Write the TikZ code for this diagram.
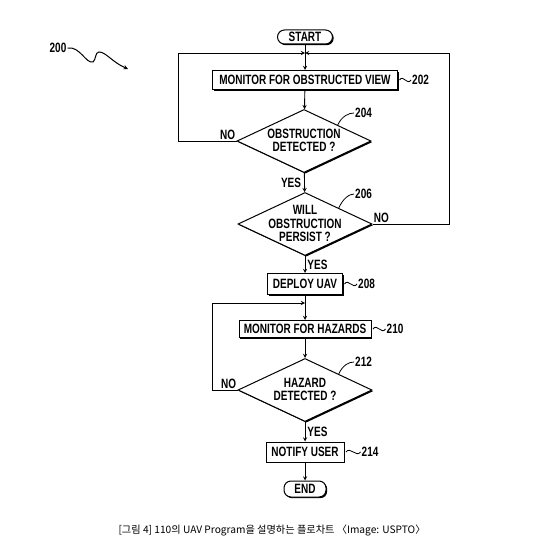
\documentclass[tikz,border=0pt]{standalone}
\usepackage{fontspec}
\newfontfamily\patfont[FakeStretch=0.74]{Liberation Sans Bold}
\newfontfamily\cjk{Noto Sans CJK KR}
\usetikzlibrary{positioning,shapes.geometric,shadows}

% text of a decision, kept from setting the size of the diamond
\newcommand{\dlines}[1]{\smash{\makebox[0pt]{\raisebox{-5pt}{\begin{tabular}{@{}c@{}}#1\end{tabular}}}}}

\tikzset{
  txt/.style={font=\patfont\fontsize{13.5}{13.5}\selectfont},
  box/.style={txt,draw,line width=1pt,fill=white,inner sep=0pt,minimum height=19pt,
    drop shadow={shadow xshift=1.2pt,shadow yshift=-1.2pt,fill=black,opacity=1}},
  decision/.style={box,diamond,minimum width=134pt,minimum height=63pt},
  term/.style={box,rounded corners=7pt,minimum height=14pt},
  lbl/.style={txt,inner sep=1pt},
  flow/.style={->,>=stealth,line width=0.9pt},
}

\begin{document}
\begin{tikzpicture}[x=1pt,y=-1pt]
\useasboundingbox (0,0) rectangle (536,556);
% main column
\node[term,minimum width=55pt] (start) at (305,37) {START};
\node[box,minimum width=185pt] (monview) at (305,80) {MONITOR FOR OBSTRUCTED VIEW};
\node[decision] (obsdet) at (304,141) {\dlines{OBSTRUCTION\\DETECTED ?}};
\node[decision] (persist) at (305,224) {\dlines{WILL\\OBSTRUCTION\\PERSIST ?}};
\node[box,minimum width=75pt,minimum height=21pt] (deploy) at (305,284) {DEPLOY UAV};
\node[box,minimum width=132pt,minimum height=17pt] (monhaz) at (305,329) {MONITOR FOR HAZARDS};
\node[decision] (hazdet) at (305,390) {\dlines{HAZARD\\DETECTED ?}};
\node[box,minimum width=78pt,minimum height=20pt] (notify) at (305,452) {NOTIFY USER};
\node[term,minimum width=42pt,minimum height=16pt] (end) at (305,489) {END};
% junctions and corners of the loops
\coordinate (j1) at (305,53);
\coordinate (j2) at (305,303);
\coordinate (c1) at (178,53);
\coordinate (c2) at (449,53);
\coordinate (c3) at (212,303);
% reference numerals
\node[lbl,right=13pt of monview] (n202) {202};
\node[lbl,anchor=west] (n204) at (354,113) {204};
\node[lbl,anchor=west] (n206) at (354,194) {206};
\node[lbl,right=14pt of deploy] (n208) {208};
\node[lbl,right=14pt of monhaz] (n210) {210};
\node[lbl,anchor=west] (n212) at (354,362) {212};
\node[lbl,right=16pt of notify] (n214) {214};
\node[lbl] (n200) at (58,48) {200};
% connectors
\draw[flow] (start) -- (monview);
\draw[flow] (monview) -- (obsdet);
\draw[flow] (obsdet) -- node[lbl,left=2pt] {YES} (persist);
\draw[flow] (persist) -- node[lbl,right=1pt] {YES} (deploy);
\draw[flow] (deploy) -- (monhaz);
\draw[flow] (monhaz) -- (hazdet);
\draw[flow] (hazdet) -- node[lbl,right=1pt] {YES} (notify);
\draw[flow] (notify) -- (end);
\draw[flow] (obsdet.west) node[lbl,above left=0pt] {NO} -| (c1) -- (j1);
\draw[flow] (persist.east) node[lbl,above right=0pt] {NO} -| (c2) -- (j1);
\draw[flow] (hazdet.west) node[lbl,above left=0pt] {NO} -| (c3) -- (j2);
% leaders
\draw[line width=0.8pt] ([xshift=1.5pt]monview.east) .. controls +(4,-6) and +(-4,6) .. (n202.west);
\draw[line width=0.8pt] ([xshift=1.5pt]deploy.east) .. controls +(4,-6) and +(-4,6) .. (n208.west);
\draw[line width=0.8pt] ([xshift=1.5pt]monhaz.east) .. controls +(4,-6) and +(-4,6) .. (n210.west);
\draw[line width=0.8pt] ([xshift=1.5pt]notify.east) .. controls +(4,-6) and +(-4,6) .. (n214.west);
\draw[line width=0.8pt] (obsdet.north east) .. controls +(4,-9) and +(-5,0) .. (n204.west);
\draw[line width=0.8pt] (persist.north east) .. controls +(4,-9) and +(-5,0) .. (n206.west);
\draw[line width=0.8pt] (hazdet.north east) .. controls +(4,-9) and +(-5,0) .. (n212.west);
\draw[flow,line width=1pt] (n200.east) .. controls (80,46) and (86,64) .. (93,62)
  .. controls (96,60) and (95,52) .. (99,52) .. controls (106,52) and (112,62) .. (128,69);
% caption
\node[font=\cjk\fontsize{10.2}{10.2}\selectfont] (caption) at (272,530)
  {[그림 4] 110의 UAV Program을 설명하는 플로차트 〈Image: USPTO〉};
\end{tikzpicture}
\end{document}
